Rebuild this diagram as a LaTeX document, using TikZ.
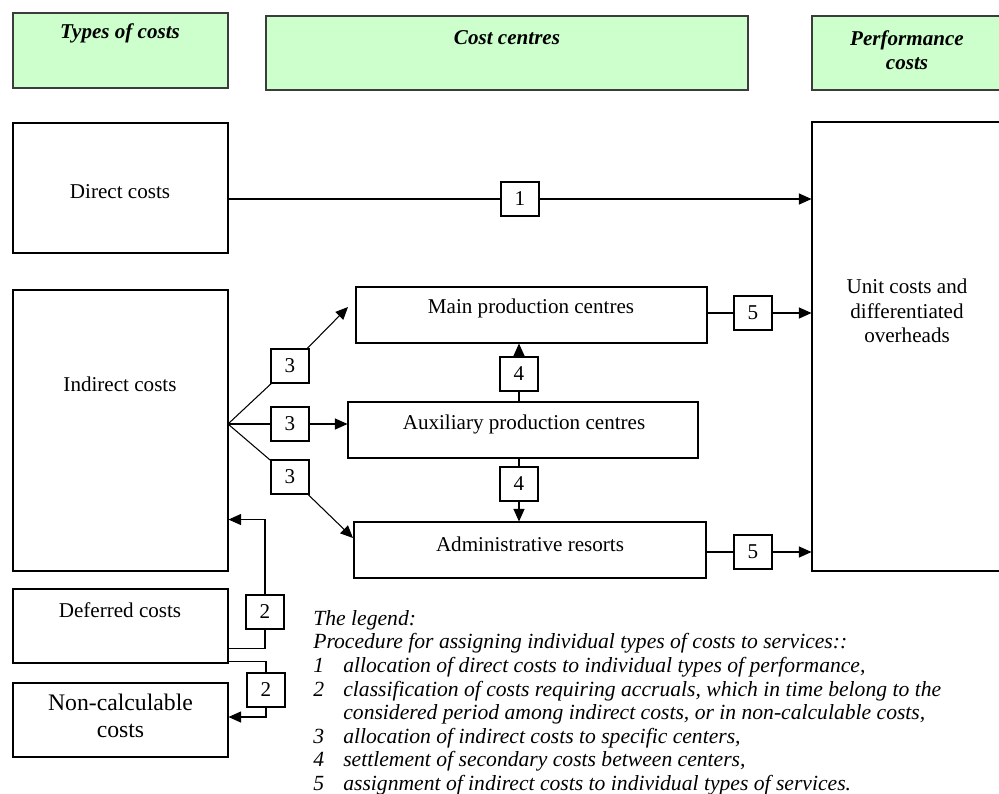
\documentclass[tikz,border=0pt]{standalone}
\usepackage{fontspec}
\setmainfont{Liberation Serif}
\usetikzlibrary{calc,arrows.meta}
\definecolor{hdrgreen}{HTML}{CCFFCC}
\definecolor{hdrline}{HTML}{3C3C3C}
\def\u{0.2mm}
\tikzset{
	box/.style={draw, line width=0.6pt, inner sep=0pt},
	hdr/.style={draw=hdrline, fill=hdrgreen, line width=1pt, inner sep=0pt},
	hdrtext/.style={font=\fontsize{12}{13.5}\selectfont\bfseries\itshape, align=center, inner sep=0pt},
	txt/.style={font=\fontsize{12}{14}\selectfont, align=center, inner sep=0pt},
	num/.style={draw, fill=white, line width=0.6pt, minimum width=38*\u, minimum height=34*\u, inner sep=0pt, font=\fontsize{12}{14}\selectfont},
	link/.style={line width=0.6pt},
	arr/.style={line width=0.6pt, -{Triangle[length=2.5mm,width=2.2mm]}}
}

\begin{document}
\begin{tikzpicture}[x=\u, y=-\u]
			%%%%% START %%%%%
			\clip (0, 0) rectangle (999, 793);
			
			% headers
			\node[hdr, minimum width=215*\u, minimum height=75*\u] (hTypes) at (120.5, 50.5) {};
			\node[hdr, minimum width=482*\u, minimum height=74*\u] (hCentres) at (507, 53) {};
			\node[hdr, minimum width=191*\u, minimum height=74*\u] (hPerf) at (907.5, 53) {};
			\node[hdrtext] (tTypes) at (120, 33) {Types of costs};
			\node[hdrtext] (tCentres) at (507, 38) {Cost centres};
			\node[hdrtext] (tPerf) at (907, 50.5) {Performance\\costs};
			
			% types of costs
			\node[box, minimum width=215*\u, minimum height=130*\u] (direct) at (120.5, 188) {};
			\node[box, minimum width=215*\u, minimum height=281*\u] (indirect) at (120.5, 430.5) {};
			\node[box, minimum width=215*\u, minimum height=74*\u] (deferred) at (120.5, 626) {};
			\node[box, minimum width=215*\u, minimum height=74*\u] (noncalc) at (120.5, 720) {};
			\node[txt] (tDirect) at (120, 192) {Direct costs};
			\node[txt] (tIndirect) at (120, 384) {Indirect costs};
			\node[txt] (tDeferred) at (120, 610) {Deferred costs};
			\node[txt, font=\fontsize{13.5}{15.5}\selectfont] (tNoncalc) at (120.5, 716) {Non-calculable\\costs};
			
			% cost centres
			\node[box, minimum width=351*\u, minimum height=56*\u] (mainpc) at (531.5, 315) {};
			\node[box, minimum width=350*\u, minimum height=56*\u] (auxpc) at (523, 430) {};
			\node[box, minimum width=352*\u, minimum height=56*\u] (admin) at (530, 550) {};
			\node[txt] (tMain) at (531, 308) {Main production centres};
			\node[txt] (tAux) at (524, 424) {Auxiliary production centres};
			\node[txt] (tAdmin) at (530, 544) {Administrative resorts};
			
			% performance costs
			\node[box, minimum width=191*\u, minimum height=449*\u] (unit) at (907.5, 346.5) {};
			\node[txt] (tUnit) at (907, 311) {Unit costs and\\differentiated\\overheads};
			
			% 1
			\node[num] (n1) at (520, 199) {1};
			\draw[link] (direct.east |- n1) -- (n1);
			\draw[arr] (n1) -- (n1 -| unit.west);
			
			% 3
			\coordinate (fan) at (228, 424);
			\coordinate (tipMain) at (348, 307);
			\coordinate (tipAdm) at (353, 538);
			\node[num] (n3a) at (290, 366) {3};
			\node[num] (n3b) at (290, 424) {3};
			\node[num] (n3c) at (290, 477) {3};
			\draw[link] (fan) -- (n3a);
			\draw[arr] (n3a) -- (tipMain);
			\draw[link] (fan) -- (n3b);
			\draw[arr] (n3b) -- (n3b -| auxpc.west);
			\draw[link] (fan) -- (n3c);
			\draw[arr] (n3c) -- (tipAdm);
			
			% 4
			\node[num] (n4a) at (519, 374) {4};
			\node[num] (n4b) at (519, 484) {4};
			\draw[link] (auxpc.north -| n4a) -- (n4a);
			\draw[arr] (n4a) -- (n4a |- mainpc.south);
			\draw[link] (auxpc.south -| n4b) -- (n4b);
			\draw[arr] (n4b) -- (n4b |- admin.north);
			
			% 5
			\node[num] (n5a) at (753, 313) {5};
			\node[num] (n5b) at (753, 552) {5};
			\draw[link] (mainpc.east |- n5a) -- (n5a);
			\draw[arr] (n5a) -- (n5a -| unit.west);
			\draw[link] (admin.east |- n5b) -- (n5b);
			\draw[arr] (n5b) -- (n5b -| unit.west);
			
			% 2
			\node[num] (n2a) at (265, 612) {2};
			\node[num] (n2b) at (266, 690) {2};
			\draw[link] ($(deferred.south east)+(0, -15)$) -| (n2a);
			\draw[arr] (n2a) |- ($(indirect.south east)+(0, -52)$);
			\draw[link] ($(deferred.south east)+(0, -2)$) -| (n2b);
			\draw[arr] (n2b) |- ($(noncalc.east)+(0, -3)$);
			
			% legend
			\node[anchor=north west, align=left, inner sep=0pt, font=\fontsize{12.3}{13.4}\selectfont\itshape] (legend) at (313, 610) {%
				The legend:\\
				Procedure for assigning individual types of costs to services::\\
				\makebox[6mm][l]{1}allocation of direct costs to individual types of performance,\\
				\makebox[6mm][l]{2}classification of costs requiring accruals, which in time belong to the\\
				\hspace*{6mm}considered period among indirect costs, or in non-calculable costs,\\
				\makebox[6mm][l]{3}allocation of indirect costs to specific centers,\\
				\makebox[6mm][l]{4}settlement of secondary costs between centers,\\
				\makebox[6mm][l]{5}assignment of indirect costs to individual types of services.};
			
			%%%%% END %%%%%
\end{tikzpicture}
\end{document}
